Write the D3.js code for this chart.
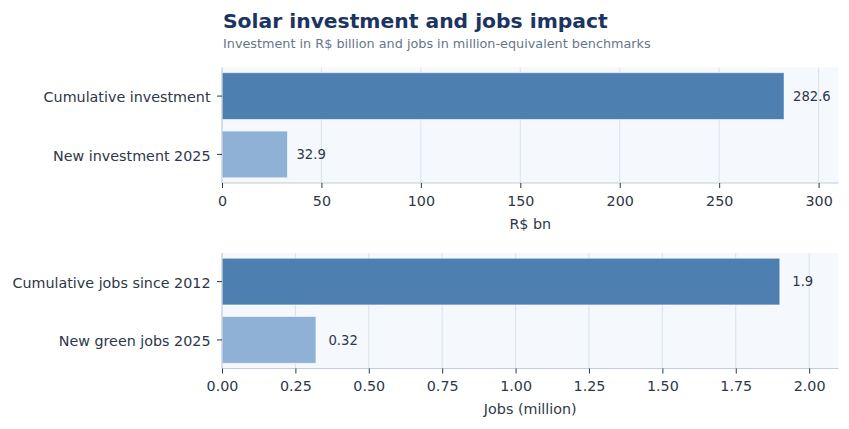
<!DOCTYPE html>
<html>
<head>
<meta charset="utf-8">
<script src="https://cdn.jsdelivr.net/npm/d3@7"></script>
<style>
  body { margin: 0; background: #fff; }
  text { font-family: "DejaVu Sans", sans-serif; }
</style>
</head>
<body>
<script>
// dati
const invCategories = ["Cumulative investment", "New investment 2025"];
const invValues = [282.6, 32.9];
const invTicks = [0, 50, 100, 150, 200, 250, 300];

const jobCategories = ["Cumulative jobs since 2012", "New green jobs 2025"];
const jobValues = [1.9, 0.32];
const jobTicks = [0, 0.25, 0.5, 0.75, 1.0, 1.25, 1.5, 1.75, 2.0];

const barColors = ["#4e7fb1", "#8fb1d6"];

const W = 849, H = 429;
const tickFont = 14.3;

var svg = d3.select("body")
  .append("svg")
  .attr("width", W)
  .attr("height", H);

svg.append("text")
  .attr("x", 223).attr("y", 28)
  .attr("font-size", 20.3)
  .attr("font-weight", "bold")
  .attr("fill", "#1b3461")
  .text("Solar investment and jobs impact");

svg.append("text")
  .attr("x", 223).attr("y", 47.5)
  .attr("font-size", 12.8)
  .attr("fill", "#66768a")
  .text("Investment in R$ billion and jobs in million-equivalent benchmarks");

// pannello con barre orizzontali
function drawPanel(top, cats, vals, maxX, ticks, fmt, xLabel, labelOffset) {
  const left = 222, right = 838.5, h = 115.5;
  const g = svg.append("g");

  const x = d3.scaleLinear().domain([0, maxX]).range([left, right]);
  const y = d3.scaleBand().domain(cats).range([top, top + h])
    .paddingInner(0.2).paddingOuter(0.09);

  g.append("rect")
    .attr("x", left).attr("y", top)
    .attr("width", right - left).attr("height", h)
    .attr("fill", "#f5f8fc");

  g.selectAll(".grid").data(ticks).enter()
    .append("line")
    .attr("x1", d => x(d)).attr("x2", d => x(d))
    .attr("y1", top).attr("y2", top + h)
    .attr("stroke", "#d9e2ee")
    .attr("stroke-width", 1);

  g.selectAll(".bar").data(vals).enter()
    .append("rect")
    .attr("x", x(0))
    .attr("y", (d, i) => y(cats[i]))
    .attr("width", d => x(d) - x(0))
    .attr("height", y.bandwidth())
    .attr("fill", (d, i) => barColors[i])
    .attr("stroke", "#ffffff")
    .attr("stroke-opacity", 0.6)
    .attr("stroke-width", 0.8);

  g.selectAll(".val").data(vals).enter()
    .append("text")
    .attr("x", d => x(d) + labelOffset)
    .attr("y", (d, i) => y(cats[i]) + y.bandwidth() / 2)
    .attr("dy", "0.35em")
    .attr("font-size", 13.2)
    .attr("fill", "#2d3748")
    .text(d => d);

  const xAxis = g.append("g")
    .attr("transform", "translate(0," + (top + h) + ")")
    .call(d3.axisBottom(x).tickValues(ticks).tickFormat(fmt).tickSize(5).tickPadding(7.5));
  xAxis.select(".domain").attr("stroke", "#c3cddb").attr("d", "M" + left + ",0H" + right);
  xAxis.selectAll(".tick line").attr("stroke", "#2d3748");
  xAxis.selectAll("text").attr("font-size", tickFont).attr("fill", "#2d3748")
    .attr("font-family", "DejaVu Sans, sans-serif");

  const yAxis = g.append("g")
    .attr("transform", "translate(" + left + ",0)")
    .call(d3.axisLeft(y).tickSize(5).tickPadding(6.5));
  yAxis.select(".domain").attr("stroke", "#c3cddb").attr("d", "M0," + top + "V" + (top + h));
  yAxis.selectAll(".tick line").attr("stroke", "#2d3748");
  yAxis.selectAll("text").attr("font-size", tickFont).attr("fill", "#2d3748")
    .attr("dy", "0.43em")
    .attr("font-family", "DejaVu Sans, sans-serif");

  g.append("text")
    .attr("x", (left + right) / 2)
    .attr("y", top + h + 45.5)
    .attr("text-anchor", "middle")
    .attr("font-size", tickFont)
    .attr("fill", "#2d3748")
    .text(xLabel);
}

drawPanel(67.5, invCategories, invValues, 310, invTicks, d3.format("d"), "R$ bn", 9);
drawPanel(253, jobCategories, jobValues, 2.1, jobTicks, d3.format(".2f"), "Jobs (million)", 12.5);
</script>
</body>
</html>
